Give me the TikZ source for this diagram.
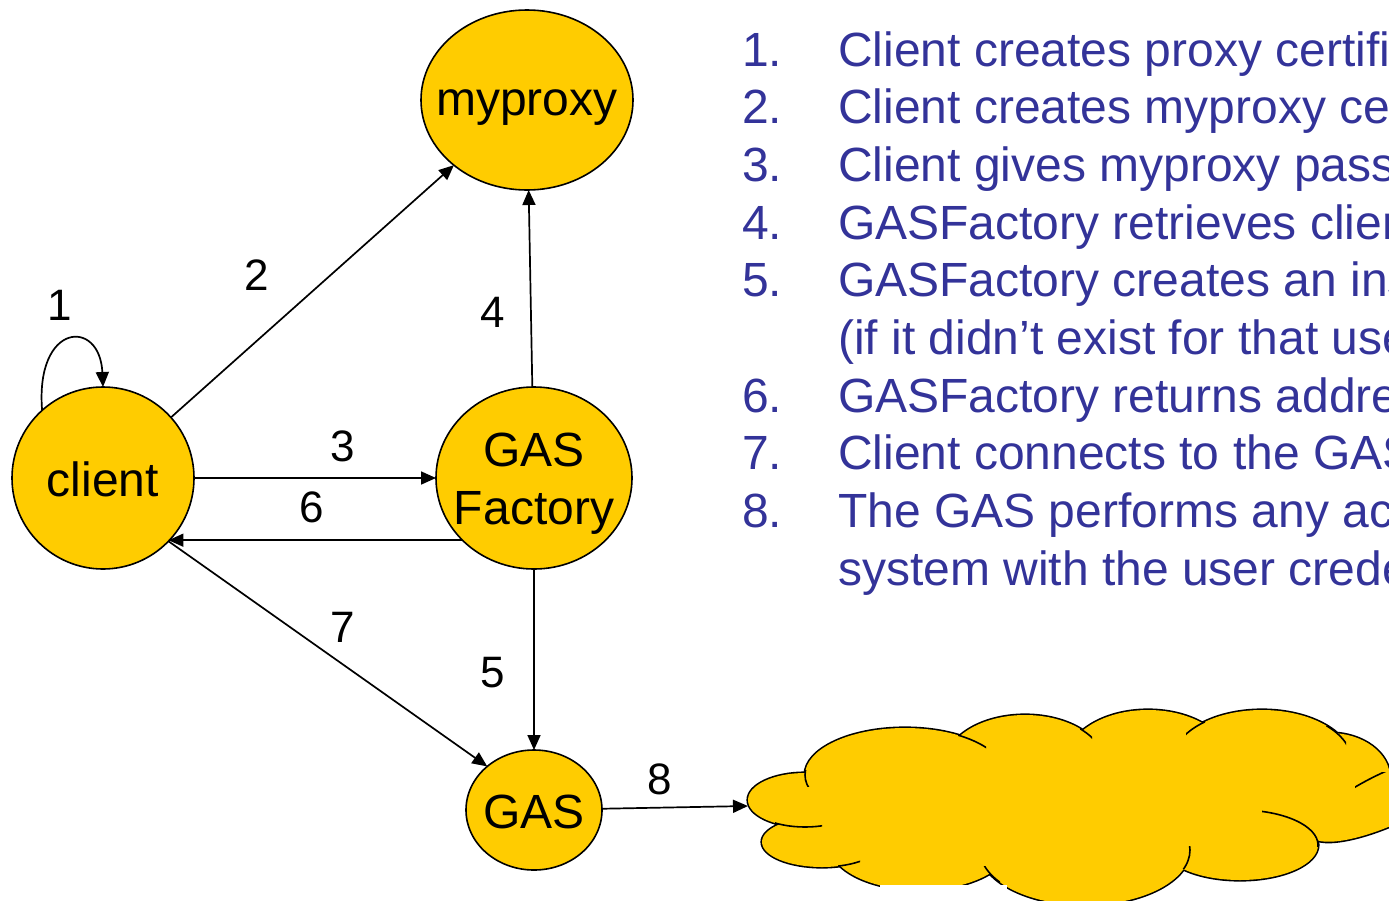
\documentclass[tikz,border=0pt]{standalone}
\usepackage{fontspec}
\setmainfont{Liberation Sans}
\usetikzlibrary{arrows.meta,shapes.geometric}
\definecolor{gold}{HTML}{FFCC00}
\definecolor{listblue}{HTML}{333399}
\newcommand\cloudlobes{(805,800) ellipse [x radius=57,y radius=27]
  (822,842) ellipse [x radius=60,y radius=25]
  (920,845) ellipse [x radius=90,y radius=45]
  (905,775) ellipse [x radius=100,y radius=47]
  (1025,765) ellipse [x radius=80,y radius=50]
  (1148,762) ellipse [x radius=82,y radius=52]
  (1262,762) ellipse [x radius=90,y radius=52]
  (1330,778) ellipse [x radius=60,y radius=45]
  (1240,845) ellipse [x radius=78,y radius=35]
  (1085,850) ellipse [x radius=105,y radius=55]}
\newcommand\cloudhook[4]{\begin{scope}\clip (#1) rectangle (#2);
  \draw[line width=1.6pt] (#3) ellipse [#4];\end{scope}}
\begin{document}
\begin{tikzpicture}[x=1pt,y=-1pt,
  shp/.style={ellipse,draw=black,line width=1.6pt,fill=gold,inner sep=0pt,outer sep=0pt},
  ntxt/.style={font=\fontsize{48}{58}\selectfont,align=center,inner sep=0pt},
  lab/.style={font=\fontsize{44}{52}\selectfont,inner sep=0pt},
  arr/.style={line width=1.7pt,-{Triangle[length=15pt,width=13pt]}},
  lst/.style={font=\fontsize{48}{58}\selectfont,text=listblue,anchor=base west,inner sep=0pt}]
\useasboundingbox (0,0) rectangle (1389,900);
\clip (0,0) rectangle (1389,900);

% cloud
\draw[line width=3.2pt] \cloudlobes;
\draw[line width=3.2pt,rotate around={25:(1392,797)}] (1392,797) ellipse [x radius=90,y radius=26];
\fill[gold] \cloudlobes;
\fill[gold,rotate around={25:(1392,797)}] (1392,797) ellipse [x radius=90,y radius=26];
\fill[gold] (800,800) -- (860,780) -- (1000,760) -- (1150,760) -- (1300,770) -- (1340,800)
  -- (1300,840) -- (1100,860) -- (900,860) -- (820,840) -- cycle;
\cloudhook{798,770}{816,786}{905,775}{x radius=100,y radius=47}
\cloudhook{958,725}{986,750}{905,775}{x radius=100,y radius=47}
\cloudhook{1080,728}{1092,742}{1025,765}{x radius=80,y radius=50}
\cloudhook{1186,715}{1205,736}{1262,762}{x radius=90,y radius=52}
\cloudhook{1326,726}{1346,745}{1262,762}{x radius=90,y radius=52}
\begin{scope}\clip (1355,772) rectangle (1390,796);
  \draw[line width=1.6pt,rotate around={25:(1392,797)}] (1392,797) ellipse [x radius=90,y radius=26];
\end{scope}
\cloudhook{1262,805}{1320,846}{1240,845}{x radius=78,y radius=35}
\cloudhook{1180,846}{1195,868}{1085,850}{x radius=105,y radius=55}
\cloudhook{983,866}{1000,884}{1085,850}{x radius=105,y radius=55}
\cloudhook{838,855}{860,870}{822,842}{x radius=60,y radius=25}
\cloudhook{775,815}{822,832}{805,800}{x radius=57,y radius=27}
\fill[white] (880,885) rectangle (1007,902);
\coordinate (cloudL) at (748,806);

% nodes
\node[shp,minimum width=212pt,minimum height=180pt] (myproxy) at (527,100) {};
\node[shp,minimum width=182pt,minimum height=182pt] (client) at (103,478) {};
\node[shp,minimum width=196pt,minimum height=182pt] (gasf) at (534,478) {};
\node[shp,minimum width=136pt,minimum height=120pt] (gas) at (534,810) {};
\node[ntxt] (myproxyT) at (527,108) {myproxy};
\node[ntxt] (clientT) at (103,479) {client};
\node[ntxt] (gasfT) at (534,484) {GAS\\Factory};
\node[ntxt] (gasT) at (534,812) {GAS};

% connectors
\draw[arr] (client.132) .. controls (35,322) and (100,318) .. (client.north);
\draw[arr] (client) -- (myproxy);
\draw[arr] (client) -- (gasf);
\draw[arr] (gasf.221.6) -- (gasf.221.6 -| client.-44.6);
\draw[arr] (gasf) -- (myproxy);
\draw[arr] (gasf) -- (gas);
\draw[arr] (client.-44.6) -- (gas.137);
\draw[arr] (gas) -- (cloudL);

% labels
\node[lab] (l1) at (60,305) {1};
\node[lab] (l2) at (257,275) {2};
\node[lab] (l3) at (343,446) {3};
\node[lab] (l4) at (493,312) {4};
\node[lab] (l5) at (493,673) {5};
\node[lab] (l6) at (312,507) {6};
\node[lab] (l7) at (343,627) {7};
\node[lab] (l8) at (660,779) {8};

% list
\node[lst] (n1) at (742,66) {1.};
\node[lst] (t1) at (838,66) {Client creates proxy certifi};
\node[lst] (n2) at (742,123.7) {2.};
\node[lst] (t2) at (838,123.7) {Client creates myproxy ce};
\node[lst] (n3) at (742,181.4) {3.};
\node[lst] (t3) at (838,181.4) {Client gives myproxy pass};
\node[lst] (n4) at (742,239.1) {4.};
\node[lst] (t4) at (838,239.1) {GASFactory retrieves clien};
\node[lst] (n5) at (742,296.8) {5.};
\node[lst] (t5) at (838,296.8) {GASFactory creates an ins};
\node[lst] (t5b) at (838,354.5) {(if it didn’t exist for that use};
\node[lst] (n6) at (742,412.2) {6.};
\node[lst] (t6) at (838,412.2) {GASFactory returns addre};
\node[lst] (n7) at (742,469.9) {7.};
\node[lst] (t7) at (838,469.9) {Client connects to the GAS};
\node[lst] (n8) at (742,527.6) {8.};
\node[lst] (t8) at (838,527.6) {The GAS performs any ac};
\node[lst] (t8b) at (838,585.3) {system with the user crede};
\end{tikzpicture}
\end{document}
